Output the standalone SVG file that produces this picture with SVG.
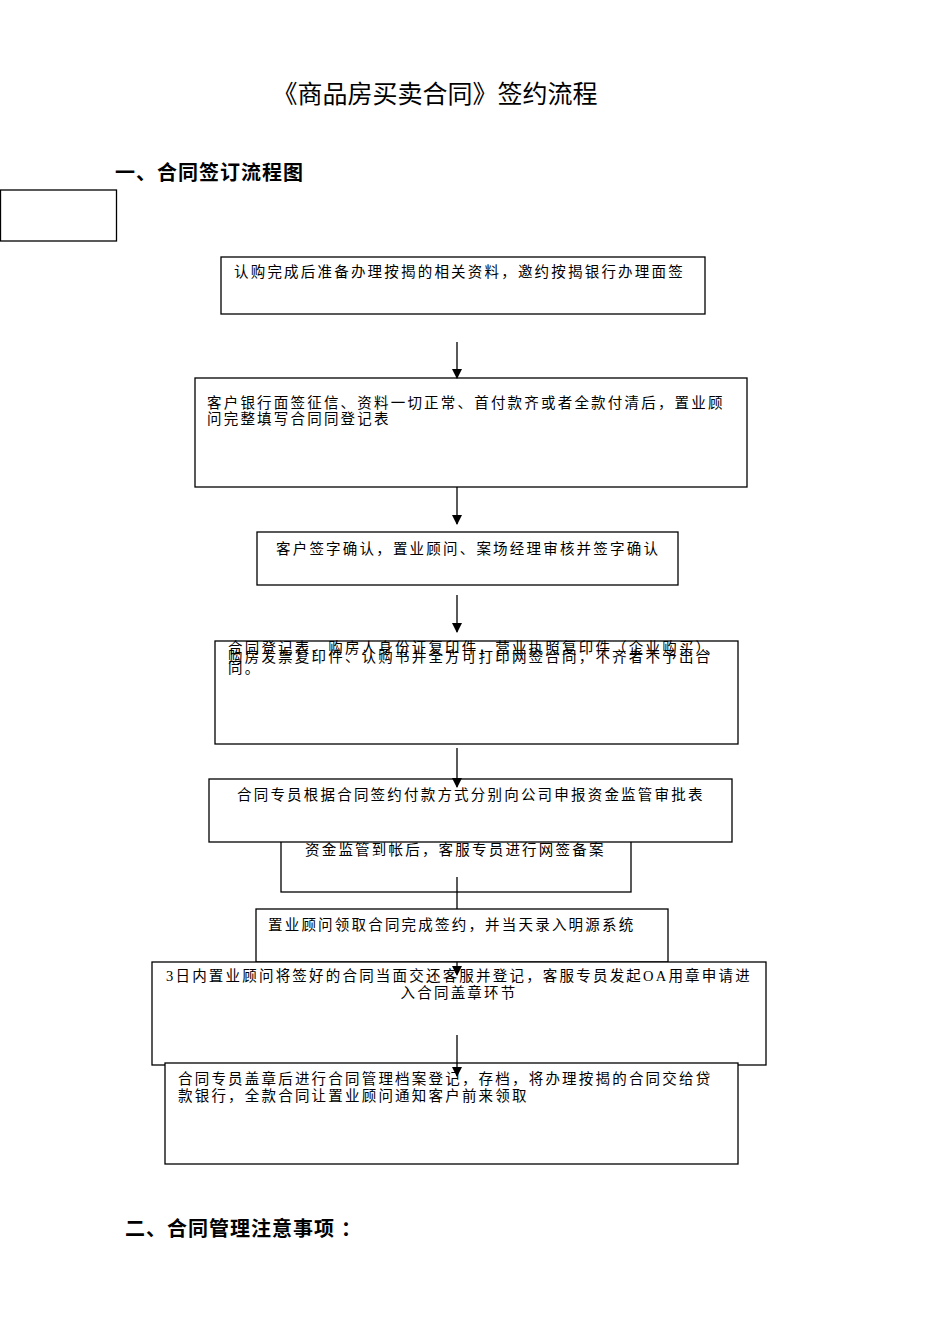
<svg xmlns="http://www.w3.org/2000/svg" width="950" height="1344" viewBox="0 0 950 1344">
<style>
.b{fill:#fff;stroke:#000;stroke-width:1.3}
.t{font-family:"Liberation Serif","Noto Sans CJK SC",serif;font-size:14.5px;fill:#000;letter-spacing:2.2px}
.h{font-family:"Liberation Serif","Noto Sans CJK SC",serif;font-size:20px;font-weight:bold;fill:#000;letter-spacing:1px}
.c{stroke:#000;stroke-width:1.3;fill:none}
</style>
<defs><marker id="a" markerWidth="10" markerHeight="10" refX="9" refY="5" orient="auto" markerUnits="userSpaceOnUse"><path d="M0,0L10,5L0,10z" fill="#000"/></marker></defs>
<rect width="950" height="1344" fill="#fff"/>
<text x="435" y="103" text-anchor="middle" style="font-family:'Noto Sans CJK SC',sans-serif;font-size:25px">《商品房买卖合同》签约流程</text>
<text class="h" x="115" y="180">一、合同签订流程图</text>
<text class="h" x="125" y="1236">二、合同管理注意事项 ：</text>
<rect class="b" x="0.5" y="190" width="116" height="51"/>
<g id="n1"><rect class="b" x="221" y="257" width="484" height="57"/><text class="t" x="234" y="277">认购完成后准备办理按揭的相关资料，邀约按揭银行办理面签</text></g>
<g id="n2"><rect class="b" x="195" y="378" width="552" height="109"/><text class="t" x="207" y="408">客户银行面签征信、资料一切正常、首付款齐或者全款付清后，置业顾</text><text class="t" x="207" y="424">问完整填写合同同登记表</text></g>
<g id="n3"><rect class="b" x="257" y="532" width="421" height="53"/><text class="t" x="276" y="554">客户签字确认，置业顾问、案场经理审核并签字确认</text></g>
<g id="n4"><rect class="b" x="215" y="641" width="523" height="103"/><text class="t" x="228" y="653">合同登记表、购房人身份证复印件，营业执照复印件（企业购买）、</text><text class="t" x="228" y="662">购房发票复印件、认购书并全方可打印网签合同，不齐者不予出合</text><text class="t" x="228" y="673">同。</text></g>
<g id="n6"><rect class="b" x="281" y="820" width="350" height="72"/><text class="t" x="305" y="855">资金监管到帐后，客服专员进行网签备案</text></g>
<g id="n5"><rect class="b" x="209" y="779" width="523" height="63"/><text class="t" x="237" y="800">合同专员根据合同签约付款方式分别向公司申报资金监管审批表</text></g>
<g id="n7"><rect class="b" x="256" y="909" width="412" height="53"/><text class="t" x="268" y="930">置业顾问领取合同完成签约，并当天录入明源系统</text></g>
<g id="n8"><rect class="b" x="152" y="962" width="614" height="103"/><text class="t" x="166" y="981">3日内置业顾问将签好的合同当面交还客服并登记，客服专员发起OA用章申请进</text><text class="t" x="459" y="998" text-anchor="middle">入合同盖章环节</text></g>
<g id="n9"><rect class="b" x="165" y="1063" width="573" height="101"/><text class="t" x="178" y="1084">合同专员盖章后进行合同管理档案登记，存档，将办理按揭的合同交给贷</text><text class="t" x="178" y="1101">款银行，全款合同让置业顾问通知客户前来领取</text></g>
<g id="connectors">
<path class="c" d="M457,342V378" marker-end="url(#a)"/>
<path class="c" d="M457,487V524" marker-end="url(#a)"/>
<path class="c" d="M457,595V632" marker-end="url(#a)"/>
<path class="c" d="M457,748V787" marker-end="url(#a)"/>
<path class="c" d="M457,877V909"/>
<path class="c" d="M457,962V975" marker-end="url(#a)"/>
<path class="c" d="M457,1035V1076" marker-end="url(#a)"/>
</g>
</svg>
